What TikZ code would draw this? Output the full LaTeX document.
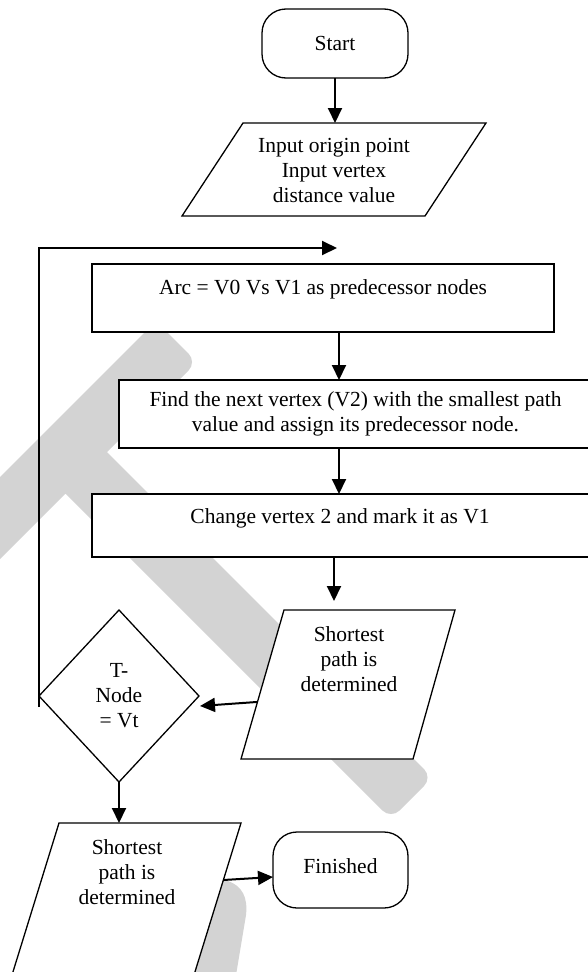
\documentclass[tikz,border=0pt]{standalone}
\usepackage{fontspec}
\setmainfont{Liberation Serif}
\usetikzlibrary{arrows.meta,calc,shapes.geometric}
\definecolor{wmgray}{HTML}{D3D3D3}
\begin{document}
\begin{tikzpicture}[x=1pt,y=-1pt,
  box/.style={draw,line width=1.3pt,fill=white,inner sep=0pt,outer sep=0pt},
  txt/.style={font=\fontsize{21.5}{25}\selectfont,align=center,inner sep=0pt},
  term/.style={box,rounded corners=24pt},
  arr/.style={line width=2pt,-{Triangle[length=15pt,width=14pt]}},
  wm/.style={fill=wmgray}]
\useasboundingbox (0,0) rectangle (588,972);
\clip (0,0) rectangle (588,972);
% watermark
\fill[wm] (-60,537) [rounded corners=12pt] -- (156,321) -- (197,362) [sharp corners] -- (107,452)
  [rounded corners=12pt] -- (432.5,777.5) -- (391,819) [sharp corners] -- (65.5,493.5) -- (-60,619) -- cycle;
\fill[wm] (200,878) -- (228,881) .. controls (242,886) and (248,897) .. (246,915) -- (236,975) -- (190,975) -- cycle;
% nodes
\node[term,txt,minimum width=146pt,minimum height=69pt] (start) at (335,43.5) {Start};
\draw[box] (243,123) coordinate (inpTL) -- (486,123) coordinate (inpTR)
  -- (425,216) coordinate (inpBR) -- (182,216) coordinate (inpBL) -- cycle;
\node[txt] (inptxt) at (334,170) {Input origin point\\Input vertex\\distance value};
\node[box,minimum width=462pt,minimum height=68pt] (arc) at (323,298) {};
\node[txt] (arctxt) at (323,289) {Arc = V0 Vs V1 as predecessor nodes};
\node[box,txt,minimum width=473pt,minimum height=68pt] (find) at (355.5,414) {Find the next vertex (V2) with the smallest path\\value and assign its predecessor node.};
\node[box,minimum width=500pt,minimum height=63pt] (chg) at (342,525.5) {};
\node[txt] (chgtxt) at (340,518) {Change vertex 2 and mark it as V1};
\draw[box] (284,610) coordinate (p1TL) -- (455,610) coordinate (p1TR)
  -- (413,759) coordinate (p1BR) -- (241,759) coordinate (p1BL) -- cycle;
\node[txt] (p1txt) at (349,659) {Shortest\\path is\\determined};
\node[box,txt,diamond,minimum width=160pt,minimum height=172pt] (dia) at (119,696) {T-\\Node\\= Vt};
\draw[box] (59,823) coordinate (p2TL) -- (241,823) coordinate (p2TR)
  -- (194,975) coordinate (p2BR) -- (12,975) coordinate (p2BL) -- cycle;
\node[txt] (p2txt) at (127,872) {Shortest\\path is\\determined};
\node[term,minimum width=135pt,minimum height=76pt] (fin) at (340.5,870) {};
\node[txt] (fintxt) at (340.5,866) {Finished};
% connectors
\draw[arr] (start.south) -- (start.south |- inpTL);
\coordinate (loopA) at ($(dia.west)+(0,11)$);
\coordinate (loopB) at (337,248);
\draw[arr] (loopA) |- (loopB);
\coordinate (a1) at ($(arc.south)+(16,0)$);
\draw[arr] (a1) -- (a1 |- find.north);
\coordinate (f1) at ($(find.south)+(-16.5,0)$);
\draw[arr] (f1) -- (f1 |- chg.north);
\coordinate (c1) at ($(chg.south)+(-8,0)$);
\draw[arr,shorten >=9pt] (c1) -- (c1 |- p1TL);
\coordinate (p1l) at ($(p1BL)!0.383!(p1TL)$);
\coordinate (diaE) at ($(dia.east)+(1,10)$);
\draw[arr] (p1l) -- (diaE);
\draw[arr] (dia.south) -- (dia.south |- p2TL);
\coordinate (p2r) at ($(p2BR)!0.625!(p2TR)$);
\coordinate (finW) at ($(fin.west)+(0,7)$);
\draw[arr] (p2r) -- (finW);
\end{tikzpicture}
\end{document}
